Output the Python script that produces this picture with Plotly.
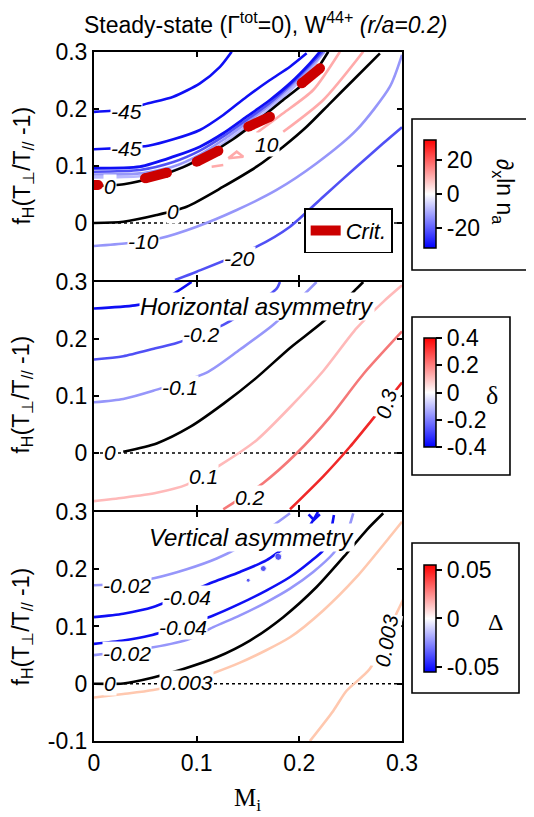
import plotly.graph_objects as go

# ---------------- data ----------------
# Panel 1 : d_x ln n_a   (x = M_i, y = f_H(Tperp/Tpar - 1))
p1_A_M = [0, 0.029, 0.0529, 0.0773, 0.1032, 0.1227, 0.1341]
p1_A_f = [0.195, 0.199, 0.210, 0.2216, 0.245, 0.274, 0.3005]
p1_B_M = [0, 0.0529, 0.0773, 0.1032, 0.1259, 0.1487, 0.1714, 0.1909, 0.2071]
p1_B_f = [0.1293, 0.1356, 0.1468, 0.1632, 0.1895, 0.2216, 0.2509, 0.2742, 0.2977]
p1_C_M = [0, 0.0448, 0.0773, 0.1032, 0.1259, 0.1487, 0.1714, 0.1909, 0.2103, 0.2201]
p1_C_f = [0.096, 0.0988, 0.1163, 0.1339, 0.1574, 0.1865, 0.2158, 0.245, 0.280, 0.3005]
p1_C2_M = [0, 0.0448, 0.0773, 0.1032, 0.1259, 0.1487, 0.1714, 0.1909, 0.2103, 0.2225]
p1_C2_f = [0.090, 0.093, 0.107, 0.127, 0.152, 0.181, 0.211, 0.242, 0.277, 0.3005]
p1_D_M = [0, 0.0448, 0.0773, 0.1032, 0.1259, 0.1487, 0.1714, 0.1909, 0.2103, 0.2243]
p1_D_f = [0.085, 0.087, 0.099, 0.120, 0.146, 0.176, 0.207, 0.238, 0.273, 0.3005]
p1_D2_M = [0, 0.0448, 0.0773, 0.1032, 0.1259, 0.1487, 0.1714, 0.1909, 0.2103, 0.2243]
p1_D2_f = [0.080, 0.082, 0.092, 0.114, 0.140, 0.170, 0.201, 0.232, 0.268, 0.3005]
p1_F_M = [0, 0.029, 0.0604, 0.087, 0.110, 0.1354, 0.1605, 0.1837, 0.2118, 0.2282]
p1_F_f = [0.065, 0.068, 0.081, 0.098, 0.119, 0.147, 0.181, 0.215, 0.257, 0.3005]
p1_G_M = [0, 0.0285, 0.061, 0.0902, 0.1259, 0.1584, 0.1843, 0.2071, 0.2299, 0.2526, 0.2785]
p1_G_f = [0, 0.0023, 0.014, 0.0286, 0.0637, 0.0988, 0.1339, 0.1689, 0.21, 0.2509, 0.2977]
p1_H_M = [0, 0.0318, 0.0643, 0.1000, 0.1390, 0.1779, 0.2169, 0.2558, 0.2882, 0.3]
p1_H_f = [-0.0404, -0.0356, -0.0268, -0.0065, 0.0228, 0.0579, 0.1047, 0.1632, 0.2391, 0.295]
p1_I_M = [0.0789, 0.1000, 0.1584, 0.1909, 0.2233, 0.2558, 0.2817, 0.3]
p1_I_f = [-0.1, -0.0854, -0.0416, -0.0065, 0.0461, 0.0988, 0.1398, 0.168]
p1_P1_M = [0.1584, 0.1843, 0.2135, 0.2395]
p1_P1_f = [0.158, 0.1925, 0.2333, 0.3005]
p1_P2_M = [0.1843, 0.2233, 0.2622]
p1_P2_f = [0.160, 0.2158, 0.3005]
p1_P3_M = [0.1146, 0.1259]
p1_P3_f = [0.0988, 0.1018]
p1_tri_M = [0.1308, 0.1390, 0.1454, 0.1308]
p1_tri_f = [0.1135, 0.1250, 0.1163, 0.1135]
crit_M0 = [0.0, 0.0497, 0.1000, 0.1503, 0.2023]
crit_M1 = [0.004, 0.0711, 0.1211, 0.1714, 0.2201]
crit_f0 = [0.0667, 0.0784, 0.1075, 0.169, 0.245]
crit_f1 = [0.0667, 0.0882, 0.1268, 0.1865, 0.2714]
p1_labels = ["-45", "-45", "0", "10", "0", "-10", "-20"]
p1_lab_M = [0.032, 0.032, 0.0156, 0.1682, 0.0773, 0.048, 0.1422]
p1_lab_f = [0.196, 0.130, 0.064, 0.137, 0.0198, -0.033, -0.062]

# Panel 2 : horizontal asymmetry delta
p2_m03_M = [0, 0.04, 0.07, 0.095]
p2_m03_f = [0.2536, 0.259, 0.272, 0.3]
p2_m02_M = [0, 0.0285, 0.061, 0.0805, 0.1259, 0.1519, 0.1779, 0.1811]
p2_m02_f = [0.1641, 0.1698, 0.1842, 0.1929, 0.2248, 0.2536, 0.2883, 0.3]
p2_m01_M = [0, 0.0285, 0.0577, 0.1097, 0.1422, 0.1746, 0.1974, 0.2168]
p2_m01_f = [0.0889, 0.0948, 0.1092, 0.1409, 0.1815, 0.2248, 0.2652, 0.3]
p2_0_M = [0.0285, 0.061, 0.0935, 0.1259, 0.1584, 0.1909, 0.2233, 0.2558, 0.2622]
p2_0_f = [0.0023, 0.0168, 0.0456, 0.0861, 0.1322, 0.1842, 0.2305, 0.2883, 0.3]
p2_01_M = [0, 0.0285, 0.061, 0.0903, 0.1259, 0.1584, 0.1909, 0.2233, 0.2558, 0.2817, 0.3]
p2_01_f = [-0.0844, -0.0785, -0.0698, -0.0555, -0.0179, 0.0225, 0.0802, 0.1438, 0.2189, 0.2652, 0.2941]
p2_02_M = [0.1259, 0.1649, 0.1974, 0.2298, 0.2622, 0.3]
p2_02_f = [-0.0988, -0.0525, -0.0005, 0.0629, 0.1381, 0.2132]
p2_03_M = [0.1909, 0.2233, 0.2493, 0.2704, 0.3]
p2_03_f = [-0.0988, -0.041, 0.0109, 0.0572, 0.1237]
p2_labels = ["-0.2", "-0.1", "0", "0.1", "0.2"]
p2_lab_M = [0.1049, 0.0837, 0.0156, 0.1064, 0.1519]
p2_lab_f = [0.2075, 0.115, 0.0, -0.041, -0.0785]

# Panel 3 : vertical asymmetry Delta
p3_lbu_M = [0, 0.0318, 0.0594, 0.0903, 0.1195, 0.1422, 0.1682, 0.1909]
p3_lbu_f = [0.1719, 0.176, 0.1847, 0.200, 0.2188, 0.2392, 0.2684, 0.2977]
p3_dbu_M = [0, 0.0285, 0.0577, 0.1162, 0.1422, 0.1682, 0.1909, 0.2071, 0.2181]
p3_dbu_f = [0.1163, 0.1223, 0.1339, 0.1777, 0.1953, 0.2158, 0.2451, 0.2684, 0.3]
p3_dbl_M = [0, 0.0285, 0.0545, 0.1162, 0.1422, 0.1682, 0.1909, 0.2103, 0.2233, 0.2301, 0.2337]
p3_dbl_f = [0.0696, 0.0754, 0.0842, 0.1193, 0.1398, 0.1632, 0.1865, 0.2128, 0.2333, 0.2626, 0.2947]
p3_lbl_M = [0, 0.0577, 0.0935, 0.1162, 0.1422, 0.1682, 0.1909, 0.2135, 0.2330, 0.2461, 0.2525]
p3_lbl_f = [0.050, 0.0637, 0.0784, 0.0988, 0.1193, 0.1427, 0.1661, 0.1953, 0.2275, 0.2626, 0.2977]
p3_v_M = [0.2090, 0.2142, 0.2200]
p3_v_f = [0.2960, 0.2860, 0.2960]
p3_dot_M = [0.1502, 0.1649, 0.1795]
p3_dot_f = [0.1807, 0.2012, 0.2216]
p3_dot_s = [4, 6, 7]
p3_0_M = [0, 0.0285, 0.0577, 0.087, 0.1195, 0.1519, 0.1843, 0.2168, 0.2461, 0.2655, 0.2817]
p3_0_f = [0, 0.0005, 0.011, 0.0258, 0.0462, 0.0754, 0.1163, 0.1689, 0.2275, 0.2684, 0.2977]
p3_a_M = [0, 0.0285, 0.0577, 0.0903, 0.1422, 0.1909, 0.2233, 0.2558, 0.2882, 0.3]
p3_a_f = [-0.024, -0.018, -0.011, 0.0023, 0.0368, 0.0812, 0.128, 0.1865, 0.2567, 0.283]
p3_b_M = [0.2103, 0.2330, 0.2460, 0.2687, 0.2960, 0.302]
p3_b_f = [-0.1, -0.0474, -0.0123, 0.026, 0.128, 0.15]
p3_labels = ["-0.02", "-0.04", "-0.04", "-0.02", "0", "0.003"]
p3_lab_M = [0.0318, 0.0903, 0.087, 0.0318, 0.0156, 0.0903]
p3_lab_f = [0.172, 0.1514, 0.0988, 0.052, 0.0, 0.0023]

zero_M = [0, 0.3]
zero_f = [0, 0]

x_ticks = [0, 0.1, 0.2, 0.3]
x_ticktext = ["0", "0.1", "0.2", "0.3"]
y_ticks12 = [0, 0.1, 0.2, 0.3]
y_ticktext12 = ["0", "0.1", "0.2", "0.3"]
y_ticks3 = [-0.1, 0, 0.1, 0.2, 0.3]
y_ticktext3 = ["-0.1", "0", "0.1", "0.2", "0.3"]

cb1_ticks = [-20, 0, 20]
cb1_text = ["-20", "0", "20"]
cb2_ticks = [-0.4, -0.2, 0, 0.2, 0.4]
cb2_text = ["-0.4", "-0.2", "0", "0.2", "0.4"]
cb3_ticks = [-0.05, 0, 0.05]
cb3_text = ["-0.05", "0", "0.05"]

# ---------------- styling ----------------
DB = "rgb(15,15,245)"
MB = "rgb(80,80,245)"
LB = "rgb(150,150,250)"
LLB = "rgb(185,185,255)"
PK = "rgb(255,170,170)"
R1 = "rgb(255,185,185)"
R2 = "rgb(245,120,120)"
R3 = "rgb(240,40,40)"
PE = "rgb(255,200,175)"
BK = "black"
CRIT = "rgb(204,0,0)"
FONT = "Arial, Liberation Sans, sans-serif"
SERIF = "Times New Roman, Liberation Serif, serif"
cscale = [[0, "rgb(0,0,255)"], [0.5, "rgb(255,255,255)"], [1, "rgb(255,0,0)"]]

fig = go.Figure()
AX = {1: ("x", "y"), 2: ("x2", "y2"), 3: ("x3", "y3")}


def curve(M, f, color, p, width=2.6):
    fig.add_trace(go.Scatter(
        x=M, y=f, mode="lines", xaxis=AX[p][0], yaxis=AX[p][1],
        line=dict(color=color, width=width, shape="spline", smoothing=0.7),
        showlegend=False, hoverinfo="skip"))


def dotted(p):
    fig.add_trace(go.Scatter(
        x=zero_M, y=zero_f, mode="lines", xaxis=AX[p][0], yaxis=AX[p][1],
        line=dict(color="black", width=1.6, dash="dot"),
        showlegend=False, hoverinfo="skip"))


# panel 1
dotted(1)
curve(p1_H_M, p1_H_f, LB, 1)
curve(p1_I_M, p1_I_f, MB, 1)
curve(p1_G_M, p1_G_f, BK, 1)
curve(p1_P1_M, p1_P1_f, PK, 1)
curve(p1_P2_M, p1_P2_f, PK, 1)
curve(p1_P3_M, p1_P3_f, PK, 1)
fig.add_trace(go.Scatter(x=p1_tri_M, y=p1_tri_f, mode="lines", line=dict(color=PK, width=2.6),
                         showlegend=False, hoverinfo="skip"))
curve(p1_D2_M, p1_D2_f, LLB, 1)
curve(p1_D_M, p1_D_f, LB, 1)
curve(p1_C2_M, p1_C2_f, MB, 1)
curve(p1_C_M, p1_C_f, DB, 1, 2.8)
curve(p1_B_M, p1_B_f, DB, 1)
curve(p1_A_M, p1_A_f, DB, 1)
curve(p1_F_M, p1_F_f, BK, 1)
for i in range(len(crit_M0)):
    fig.add_trace(go.Scatter(
        x=[crit_M0[i], crit_M1[i]], y=[crit_f0[i], crit_f1[i]], mode="lines+markers",
        line=dict(color=CRIT, width=10), marker=dict(color=CRIT, size=10),
        showlegend=False, hoverinfo="skip"))
fig.add_trace(go.Scatter(x=[None], y=[None], mode="lines", name="Crit.",
                         line=dict(color=CRIT, width=10), showlegend=True))

# panel 2
dotted(2)
curve(p2_m03_M, p2_m03_f, DB, 2)
curve(p2_m02_M, p2_m02_f, MB, 2)
curve(p2_m01_M, p2_m01_f, LB, 2)
curve(p2_0_M, p2_0_f, BK, 2)
curve(p2_01_M, p2_01_f, R1, 2)
curve(p2_02_M, p2_02_f, R2, 2)
curve(p2_03_M, p2_03_f, R3, 2)

# panel 3
dotted(3)
curve(p3_lbu_M, p3_lbu_f, LB, 3)
curve(p3_lbl_M, p3_lbl_f, LB, 3)
curve(p3_dbu_M, p3_dbu_f, DB, 3)
curve(p3_dbl_M, p3_dbl_f, DB, 3)
fig.add_trace(go.Scatter(x=p3_v_M, y=p3_v_f, mode="lines", xaxis="x3", yaxis="y3",
                         line=dict(color=DB, width=2.6), showlegend=False, hoverinfo="skip"))
fig.add_trace(go.Scatter(x=p3_dot_M, y=p3_dot_f, mode="markers", xaxis="x3", yaxis="y3",
                         marker=dict(color=DB, size=p3_dot_s), showlegend=False, hoverinfo="skip"))
curve(p3_0_M, p3_0_f, BK, 3)
curve(p3_a_M, p3_a_f, PE, 3)
curve(p3_b_M, p3_b_f, PE, 3)

# colorbars
TICKF = dict(size=23, family=FONT, color="black")
cb_common = dict(thickness=12, thicknessmode="pixels", lenmode="fraction", xanchor="left",
                 xpad=0, ypad=0, yanchor="middle", outlinecolor="black", outlinewidth=1.5,
                 ticks="outside", ticklen=6, tickwidth=2, tickcolor="black",
                 tickfont=TICKF, borderwidth=0)
for cmin, cmax, tv, tt, y, ln in [(-32, 32, cb1_ticks, cb1_text, 0.7939, 0.1567),
                                  (-0.4, 0.4, cb2_ticks, cb2_text, 0.5058, 0.1582),
                                  (-0.055, 0.055, cb3_ticks, cb3_text, 0.1778, 0.1553)]:
    cb = dict(cb_common)
    cb.update(x=1.0714, y=y, len=ln, tickvals=tv, ticktext=tt)
    fig.add_trace(go.Scatter(x=[0.1], y=[-5], mode="markers", xaxis="x3", yaxis="y3",
                             marker=dict(color=[cmin], cmin=cmin, cmax=cmax, colorscale=cscale,
                                         showscale=True, colorbar=cb, size=1),
                             showlegend=False, hoverinfo="skip"))

# ---------------- annotations ----------------
ann = []
C = dict(xanchor="center", yanchor="middle", showarrow=False)
LBL = dict(bgcolor="white", borderpad=0,
           font=dict(size=21, family=FONT, color="black", style="italic"), **C)
for t, m, f in zip(p1_labels, p1_lab_M, p1_lab_f):
    ann.append(dict(text=t, x=m, y=f, xref="x", yref="y", **LBL))
for t, m, f in zip(p2_labels, p2_lab_M, p2_lab_f):
    ann.append(dict(text=t, x=m, y=f, xref="x2", yref="y2", **LBL))
ann.append(dict(text="0.3", x=0.285, y=0.086, xref="x2", yref="y2", textangle=-75, **LBL))
for t, m, f in zip(p3_labels, p3_lab_M, p3_lab_f):
    ann.append(dict(text=t, x=m, y=f, xref="x3", yref="y3", **LBL))
ann.append(dict(text="0.003", x=0.285, y=0.0754, xref="x3", yref="y3", textangle=-80, **LBL))

PT = dict(bgcolor="white", borderpad=0,
          font=dict(size=24, family=FONT, color="black", style="italic"), **C)
ann.append(dict(text="Horizontal asymmetry", x=0.1587, y=0.2565, xref="x2", yref="y2", **PT))
ann.append(dict(text="Vertical asymmetry", x=0.1538, y=0.256, xref="x3", yref="y3", **PT))

ytitle = "f<sub>H</sub>(T<sub>⊥</sub>/T<sub>//</sub> -1)"
for yc in [0.8345, 0.5022, 0.1655]:
    ann.append(dict(text=ytitle, x=-0.232, y=yc, xref="paper", yref="paper", textangle=-90,
                    font=dict(size=23, family=FONT, color="black"), **C))
ann.append(dict(text="Steady-state (Γ<sup>tot</sup>=0), W<sup>44+</sup> <i>(r/a=0.2)</i>",
                x=0.558, y=1.0420, xref="paper", yref="paper",
                font=dict(size=23, family=FONT, color="black"), **C))
ann.append(dict(text="M<sub>i</sub>", x=0.497, y=-0.0856, xref="paper", yref="paper",
                font=dict(size=25, family=SERIF, color="black"), **C))
ann.append(dict(text="∂<sub>x</sub>ln n<sub>a</sub>", x=1.328, y=0.797, xref="paper", yref="paper",
                textangle=90, font=dict(size=23, family=FONT, color="black"), **C))
ann.append(dict(text="δ", x=1.292, y=0.502, xref="paper", yref="paper",
                font=dict(size=26, family=SERIF, color="black"), **C))
ann.append(dict(text="Δ", x=1.302, y=0.1727, xref="paper", yref="paper",
                font=dict(size=24, family=SERIF, color="black"), **C))

shapes = []
for x1, y0, y1 in [(1.448, 0.6836, 0.9028), (1.3506, 0.3861, 0.6154), (1.3799, 0.0697, 0.2874)]:
    shapes.append(dict(type="rect", xref="paper", yref="paper", x0=1.0325, x1=x1, y0=y0, y1=y1,
                       line=dict(color="black", width=1.6), fillcolor="rgba(0,0,0,0)", layer="above"))

axis_common = dict(range=[0, 0.3], showgrid=False, zeroline=False, showline=True, linecolor="black",
                   linewidth=2, mirror="ticks", ticks="inside", ticklen=5, tickwidth=1.5,
                   tickcolor="black", tickfont=TICKF)
yaxis_common = dict(range=[-0.1, 0.3], showgrid=False, zeroline=False, showline=True, linecolor="black",
                    linewidth=2, mirror="ticks", ticks="inside", ticklen=5, tickwidth=1.5,
                    tickcolor="black", tickfont=TICKF)

# page body has an 8px default margin: offset the figure margins to compensate
fig.update_layout(
    width=534, height=817, paper_bgcolor="white", plot_bgcolor="white",
    margin=dict(l=86, r=140, t=44, b=84),
    font=dict(family=FONT, color="black"),
    xaxis=dict(domain=[0, 1], anchor="y", tickvals=x_ticks, showticklabels=False, **axis_common),
    yaxis=dict(domain=[0.6691, 1], anchor="x", tickvals=y_ticks12, ticktext=y_ticktext12, **yaxis_common),
    xaxis2=dict(domain=[0, 1], anchor="y2", tickvals=x_ticks, showticklabels=False, **axis_common),
    yaxis2=dict(domain=[0.3353, 0.6662], anchor="x2", tickvals=y_ticks12, ticktext=y_ticktext12, **yaxis_common),
    xaxis3=dict(domain=[0, 1], anchor="y3", tickvals=x_ticks, ticktext=x_ticktext, **axis_common),
    yaxis3=dict(domain=[0, 0.3324], anchor="x3", tickvals=y_ticks3, ticktext=y_ticktext3, **yaxis_common),
    legend=dict(x=0.971, xanchor="right", y=0.708, yanchor="bottom", bgcolor="white",
                bordercolor="black", borderwidth=1.6, itemwidth=30,
                font=dict(size=22, family=FONT, color="black", style="italic")),
    annotations=ann, shapes=shapes,
)

fig.write_html("out.html")
